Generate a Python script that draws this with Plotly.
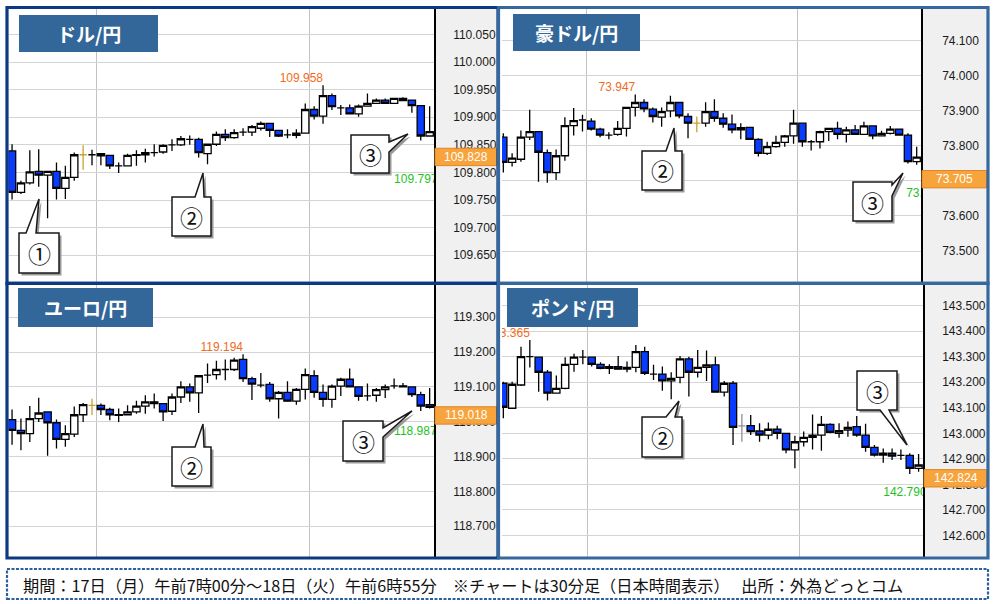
import plotly.graph_objects as go

W, H = 994, 604

# ---------------- data ----------------
pair_names = ["ドル/円", "豪ドル/円", "ユーロ/円", "ポンド/円"]

usd_o = [109.839,109.764,109.781,109.802,109.795,109.802,109.771,109.791,109.832,109.832,
         109.834,109.831,109.812,109.812,109.831,109.832,109.836,109.837,109.850,109.850,
         109.860,109.860,109.834,109.851,109.869,109.863,109.873,109.873,109.880,109.889,
         109.876,109.868,109.867,109.871,109.914,109.902,109.939,109.917,109.917,109.906,
         109.920,109.925,109.931,109.925,109.934,109.931,109.921,109.866]
usd_h = [109.851,109.785,109.840,109.842,109.802,109.818,109.812,109.836,109.849,109.841,
         109.834,109.831,109.818,109.834,109.840,109.843,109.851,109.851,109.860,109.866,
         109.867,109.863,109.852,109.874,109.878,109.878,109.880,109.886,109.892,109.889,
         109.877,109.878,109.878,109.925,109.920,109.958,109.943,109.922,109.923,109.923,
         109.943,109.934,109.934,109.934,109.936,109.932,109.921,109.920]
usd_l = [109.751,109.761,109.778,109.774,109.717,109.751,109.752,109.785,109.805,109.813,
         109.813,109.806,109.799,109.812,109.812,109.818,109.829,109.834,109.839,109.848,
         109.850,109.827,109.815,109.848,109.857,109.861,109.866,109.866,109.876,109.864,
         109.864,109.862,109.862,109.871,109.896,109.888,109.913,109.904,109.906,109.901,
         109.919,109.924,109.925,109.924,109.930,109.908,109.858,109.866]
usd_c = [109.764,109.781,109.801,109.795,109.802,109.771,109.791,109.832,109.832,109.832,
         109.830,109.812,109.812,109.831,109.832,109.836,109.836,109.849,109.850,109.861,
         109.860,109.836,109.851,109.869,109.863,109.872,109.873,109.883,109.889,109.876,
         109.866,109.868,109.871,109.914,109.902,109.939,109.919,109.917,109.906,109.920,
         109.925,109.931,109.925,109.934,109.930,109.921,109.866,109.874]

aud_o = [73.825,73.753,73.762,73.825,73.841,73.781,73.724,73.772,73.858,73.874,
         73.871,73.848,73.831,73.833,73.850,73.910,73.924,73.905,73.882,73.900,
         73.924,73.884,73.865,73.865,73.898,73.879,73.862,73.846,73.853,73.819,
         73.779,73.798,73.810,73.829,73.865,73.812,73.812,73.841,73.850,73.833,
         73.846,73.833,73.857,73.829,73.836,73.848,73.831,73.755]
aud_h = [73.836,73.779,73.844,73.903,73.841,73.790,73.790,73.882,73.908,73.889,
         73.879,73.852,73.839,73.871,73.910,73.947,73.933,73.910,73.910,73.943,
         73.924,73.893,73.884,73.925,73.933,73.893,73.890,73.865,73.855,73.822,
         73.812,73.829,73.831,73.903,73.865,73.817,73.843,73.850,73.869,73.855,
         73.860,73.869,73.857,73.843,73.857,73.848,73.836,73.798]
aud_l = [73.724,73.741,73.755,73.817,73.698,73.695,73.703,73.758,73.830,73.841,
         73.844,73.825,73.819,73.829,73.827,73.884,73.896,73.867,73.855,73.882,
         73.879,73.822,73.839,73.855,73.869,73.852,73.836,73.819,73.817,73.770,
         73.774,73.795,73.798,73.806,73.798,73.787,73.793,73.814,73.819,73.810,
         73.831,73.831,73.819,73.827,73.833,73.829,73.750,73.746]
aud_c = [73.753,73.765,73.825,73.841,73.782,73.724,73.772,73.858,73.872,73.874,
         73.848,73.831,73.831,73.850,73.910,73.924,73.906,73.884,73.898,73.924,
         73.886,73.865,73.865,73.898,73.879,73.862,73.846,73.852,73.819,73.779,
         73.798,73.810,73.829,73.865,73.812,73.812,73.841,73.850,73.833,73.846,
         73.833,73.857,73.829,73.836,73.848,73.831,73.755,73.768]

eur_o = [119.006,118.975,118.966,119.009,119.028,118.997,118.949,118.964,119.020,119.047,
         119.047,119.035,119.020,119.020,119.028,119.045,119.057,119.052,119.030,119.071,
         119.100,119.083,119.134,119.135,119.150,119.150,119.179,119.124,119.105,119.107,
         119.066,119.084,119.059,119.093,119.132,119.084,119.064,119.102,119.122,119.100,
         119.074,119.076,119.092,119.103,119.103,119.100,119.078,119.049]
eur_h = [119.035,119.009,119.045,119.069,119.028,119.006,118.990,119.044,119.054,119.066,
         119.052,119.040,119.038,119.047,119.060,119.076,119.081,119.052,119.081,119.116,
         119.110,119.134,119.167,119.175,119.179,119.184,119.194,119.129,119.140,119.114,
         119.088,119.116,119.097,119.153,119.148,119.107,119.107,119.126,119.153,119.100,
         119.110,119.097,119.107,119.124,119.111,119.102,119.086,119.097]
eur_l = [118.934,118.918,118.942,118.999,118.902,118.923,118.928,118.956,118.999,119.019,
         119.019,119.004,118.999,119.019,119.023,119.023,119.038,119.002,119.019,119.054,
         119.057,119.025,119.111,119.121,119.119,119.146,119.114,119.062,119.098,119.057,
         119.009,119.057,119.049,119.064,119.069,119.043,119.040,119.074,119.100,119.060,
         119.060,119.057,119.068,119.095,119.100,119.071,119.031,119.038]
eur_c = [118.975,118.966,119.009,119.025,118.997,118.949,118.966,119.020,119.049,119.047,
         119.035,119.020,119.018,119.028,119.045,119.057,119.052,119.028,119.071,119.100,
         119.083,119.132,119.134,119.150,119.150,119.177,119.124,119.108,119.105,119.066,
         119.084,119.059,119.093,119.135,119.084,119.064,119.102,119.122,119.100,119.073,
         119.074,119.092,119.100,119.103,119.100,119.078,119.045,119.041]

gbp_o = [143.196,143.098,143.189,143.300,143.298,143.239,143.157,143.176,143.270,143.298,
         143.298,143.270,143.254,143.261,143.251,143.258,143.320,143.232,143.232,143.205,
         143.219,143.291,143.239,143.258,143.268,143.161,143.196,143.029,143.030,143.009,
         142.993,143.016,143.000,142.935,142.967,142.984,142.993,143.035,143.000,143.013,
         143.026,142.993,142.945,142.915,142.922,142.914,142.914,142.863]
gbp_h = [143.202,143.202,143.339,143.365,143.298,143.248,143.226,143.298,143.311,143.326,
         143.298,143.278,143.270,143.303,143.281,143.346,143.339,143.268,143.261,143.239,
         143.303,143.300,143.326,143.324,143.300,143.205,143.205,143.076,143.072,143.039,
         143.042,143.030,143.000,142.990,143.007,143.074,143.068,143.039,143.039,143.046,
         143.068,143.037,142.954,142.941,142.941,142.937,142.922,142.919]
gbp_l = [143.059,143.098,143.185,143.258,143.163,143.128,143.157,143.172,143.241,143.270,
         143.261,143.251,143.232,143.251,143.239,143.239,143.228,143.209,143.167,143.133,
         143.196,143.144,143.218,143.205,143.161,143.144,142.954,142.967,142.993,142.967,
         142.977,142.977,142.922,142.863,142.948,142.937,142.932,143.000,142.983,142.987,
         142.987,142.928,142.909,142.885,142.896,142.896,142.841,142.850]
gbp_c = [143.102,143.192,143.300,143.300,143.239,143.157,143.176,143.270,143.298,143.298,
         143.270,143.254,143.261,143.251,143.258,143.320,143.235,143.232,143.205,143.215,
         143.291,143.239,143.258,143.268,143.161,143.196,143.023,143.029,143.007,142.993,
         143.016,143.000,142.935,142.967,142.984,142.993,143.035,143.004,143.010,143.023,
         142.993,142.945,142.915,142.922,142.911,142.914,142.863,142.876]

last_price = [109.828, 73.705, 119.018, 142.824]
low_label = [109.797, 73.680, 118.987, 142.790]
special_candle = [8, 22, 9, 27]
footer_text = "期間：17日（月）午前7時00分～18日（火）午前6時55分　※チャートは30分足（日本時間表示）　 出所：外為どっとコム"

series = [(usd_o, usd_h, usd_l, usd_c), (aud_o, aud_h, aud_l, aud_c),
          (eur_o, eur_h, eur_l, eur_c), (gbp_o, gbp_h, gbp_l, gbp_c)]

# ---------------- layout geometry (pixels) ----------------
NAVY, STEEL = "#0b3a82", "#36689e"
panels = [
    dict(plot=(8.5, 434, 9, 281.5), frame=(7, 498, 7.5, 283.3), border=NAVY,
         yr=(109.6024, 110.096), dtick=0.05, xr=(-0.4, 47.49),
         tbox=(19, 158, 15, 52), standoff=15, low_x=43.0, spc="#c9a030"),
    dict(plot=(502, 921, 9, 281.5), frame=(498.5, 988, 7.5, 283.3), border=STEEL,
         yr=(73.4129, 74.191), dtick=0.1, xr=(-0.15, 47.49),
         tbox=(513, 640, 14, 51), standoff=17, low_x=45.8, spc="#c9a030"),
    dict(plot=(8.5, 434, 285, 557), frame=(7, 498, 283.3, 558), border=NAVY,
         yr=(118.6112, 119.3928), dtick=0.1, xr=(-0.4, 47.49),
         tbox=(18, 153, 288, 327), standoff=15, low_x=43.0, spc="#c9a030"),
    dict(plot=(502, 923, 285, 557), frame=(498.5, 988, 283.3, 558), border=STEEL,
         yr=(142.516, 143.5804), dtick=0.1, xr=(-0.15, 47.5),
         tbox=(507, 638, 288, 327), standoff=15, low_x=43.0, spc="#909090"),
]

# callouts: (label, box x0,x1,y0,y1, side, a, b, tip)
callouts = [
    ("①", (19, 59, 233, 273), "top", 26, 36, (39, 199)),
    ("②", (172, 211, 197, 236), "top", 195, 204, (203, 173)),
    ("③", (351, 389, 135, 173), "right", 142, 152, (408, 134)),
    ("②", (642, 682, 151, 190), "top", 666, 675, (674, 128)),
    ("③", (853, 892, 182, 221), "right", 185, 196, (903, 173)),
    ("②", (172, 211, 447, 486), "top", 195, 204, (203, 424)),
    ("③", (343, 383, 421, 461), "right", 428, 437, (412, 411)),
    ("②", (642, 682, 417, 457), "top", 666, 675, (679, 401)),
    ("③", (857, 897, 371, 410), "bottom", 880, 889, (907, 445)),
]


def px(x):
    return x / W


def py(y):
    return 1 - y / H


def callout_path(box, side, a, b, tip, d=0.0):
    x0, x1, y0, y1 = box
    if side == "top":
        pts = [(x0, y0), (a, y0), tip, (b, y0), (x1, y0), (x1, y1), (x0, y1)]
    elif side == "right":
        pts = [(x0, y0), (x1, y0), (x1, a), tip, (x1, b), (x1, y1), (x0, y1)]
    else:
        pts = [(x0, y0), (x1, y0), (x1, y1), (b, y1), tip, (a, y1), (x0, y1)]
    return "M " + " L ".join(f"{px(x + d):.5f},{py(y + d):.5f}" for x, y in pts) + " Z"


fig = go.Figure()
shapes, annotations, frames = [], [], []
TICKFONT = dict(family="Liberation Sans Narrow, Liberation Sans, Arial", size=12, color="#1a1a1a")
LABFONT = "Liberation Sans, Arial"

for k, (p, (o, h, l, c)) in enumerate(zip(panels, series)):
    n = k + 1
    xa, ya = f"x{n}" if n > 1 else "x", f"y{n}" if n > 1 else "y"
    idx = list(range(len(o)))
    sp = special_candle[k]
    mo = [None if i == sp else v for i, v in enumerate(o)]
    mh = [None if i == sp else v for i, v in enumerate(h)]
    ml = [None if i == sp else v for i, v in enumerate(l)]
    mc = [None if i == sp else v for i, v in enumerate(c)]
    fig.add_trace(go.Candlestick(
        x=idx, open=mo, high=mh, low=ml, close=mc, xaxis=xa, yaxis=ya,
        increasing=dict(line=dict(color="#000000", width=1.3), fillcolor="#ffffff"),
        decreasing=dict(line=dict(color="#000000", width=1.3), fillcolor="#0a3cff"),
        whiskerwidth=0, showlegend=False, hoverinfo="skip"))
    # special (coloured) doji
    fig.add_trace(go.Scatter(
        x=[sp - 0.4, sp + 0.4, None, sp, sp], y=[o[sp], c[sp], None, h[sp], l[sp]],
        mode="lines", line=dict(color=p["spc"], width=1.3), xaxis=xa, yaxis=ya,
        showlegend=False, hoverinfo="skip"))
    # high label
    hi = max(h)
    hi_i = h.index(hi)
    fig.add_trace(go.Scatter(
        x=[hi_i], y=[hi], mode="text", text=[f"{hi:.3f}"], textposition="top left",
        textfont=dict(family=LABFONT, size=12, color="#f26a1b"), cliponaxis=True,
        xaxis=xa, yaxis=ya, showlegend=False, hoverinfo="skip"))
    # low label
    fig.add_trace(go.Scatter(
        x=[p["low_x"]], y=[low_label[k]], mode="text", text=[f"{low_label[k]:.3f}"],
        textposition="bottom right",
        textfont=dict(family=LABFONT, size=12, color="#1ec21e"), cliponaxis=True,
        xaxis=xa, yaxis=ya, showlegend=False, hoverinfo="skip"))

    x0, x1, y0, y1 = p["plot"]
    fig.layout[f"xaxis{n if n > 1 else ''}"] = dict(
        domain=[px(x0), px(x1)], range=list(p["xr"]), anchor=ya,
        showticklabels=False, ticks="", tickvals=[9.5, 33.5], showgrid=True,
        gridcolor="#c2c2c2", gridwidth=1.3, zeroline=False, showline=False,
        rangeslider=dict(visible=False), fixedrange=True)
    fig.layout[f"yaxis{n if n > 1 else ''}"] = dict(
        domain=[py(y1), py(y0)], range=list(p["yr"]), anchor=xa, side="right",
        dtick=p["dtick"], tick0=0, tickformat=".3f", showgrid=True,
        gridcolor="#d4d4d4", gridwidth=1, zeroline=False, showline=True,
        linecolor="#000000", linewidth=1.5, ticks="", ticklabelstandoff=p["standoff"],
        tickfont=TICKFONT, fixedrange=True)

    fx0, fx1, fy0, fy1 = p["frame"]
    # grey price-axis background
    shapes.append(dict(type="rect", xref="paper", yref="paper", layer="below",
                       x0=px(x1), x1=px(fx1), y0=py(fy1), y1=py(fy0),
                       fillcolor="#f0f0f0", line=dict(width=0)))
    # title box
    tx0, tx1, ty0, ty1 = p["tbox"]
    shapes.append(dict(type="rect", xref="paper", yref="paper", layer="above",
                       x0=px(tx0), x1=px(tx1), y0=py(ty1), y1=py(ty0),
                       fillcolor="#336699", line=dict(width=0)))
    annotations.append(dict(text=f"<b>{pair_names[k]}</b>", xref="paper", yref="paper",
                            x=px((tx0 + tx1) / 2), y=py((ty0 + ty1) / 2),
                            xanchor="center", yanchor="middle", showarrow=False,
                            font=dict(family="Noto Sans CJK JP", size=19, color="#ffffff")))
    # current price box
    shapes.append(dict(type="rect", xref="paper", yref=ya, layer="above",
                       x0=px(x1 + 1), x1=px(fx1 - 1.5), ysizemode="pixel",
                       yanchor=last_price[k], y0=-8.7, y1=8.7,
                       fillcolor="#f7a43c", line=dict(color="#e0862a", width=1)))
    annotations.append(dict(text=f"{last_price[k]:.3f}", xref="paper", yref=ya,
                            x=px((x1 + fx1) / 2), y=last_price[k], xanchor="center",
                            yanchor="middle", showarrow=False,
                            font=dict(family=TICKFONT["family"], size=12, color="#ffffff")))
    # frame (drawn last, navy first then steel)
    frames.append((p["border"] == STEEL, dict(
        type="rect", xref="paper", yref="paper", layer="above",
        x0=px(fx0), x1=px(fx1), y0=py(fy1), y1=py(fy0),
        line=dict(color=p["border"], width=3.2), fillcolor="rgba(0,0,0,0)")))

# callouts
for lab, box, side, a, b, tip in callouts:
    shapes.append(dict(type="path", xref="paper", yref="paper", layer="above",
                       path=callout_path(box, side, a, b, tip, d=2.5),
                       fillcolor="#9a9a9a", line=dict(width=0)))
    shapes.append(dict(type="path", xref="paper", yref="paper", layer="above",
                       path=callout_path(box, side, a, b, tip),
                       fillcolor="#ffffff", line=dict(color="#1a1a1a", width=1.5)))
    annotations.append(dict(text=lab, xref="paper", yref="paper",
                            x=px((box[0] + box[1]) / 2), y=py((box[2] + box[3]) / 2),
                            xanchor="center", yanchor="middle", showarrow=False,
                            font=dict(family="Noto Sans CJK JP", size=23, color="#111111")))

shapes += [s for _, s in sorted(frames, key=lambda t: t[0])]

# footer
shapes.append(dict(type="rect", xref="paper", yref="paper", layer="above",
                   x0=px(7), x1=px(988), y0=py(599), y1=py(569),
                   line=dict(color="#2f5f9e", width=2.2, dash="3px,1.5px"),
                   fillcolor="rgba(0,0,0,0)"))
annotations.append(dict(text=footer_text, xref="paper", yref="paper",
                        x=px(21), y=py(584.5), xanchor="left", yanchor="middle",
                        showarrow=False,
                        font=dict(family="Noto Sans CJK JP", size=16.2, color="#111111")))

fig.update_layout(width=W, height=H, margin=dict(l=0, r=0, t=0, b=0),
                  paper_bgcolor="#ffffff", plot_bgcolor="#ffffff",
                  shapes=shapes, annotations=annotations, boxgap=0.18, boxgroupgap=0,
                  showlegend=False)
fig.write_html("out.html", config=dict(displayModeBar=False),
               post_script="document.body.style.margin='0px';document.body.style.overflow='hidden';")
